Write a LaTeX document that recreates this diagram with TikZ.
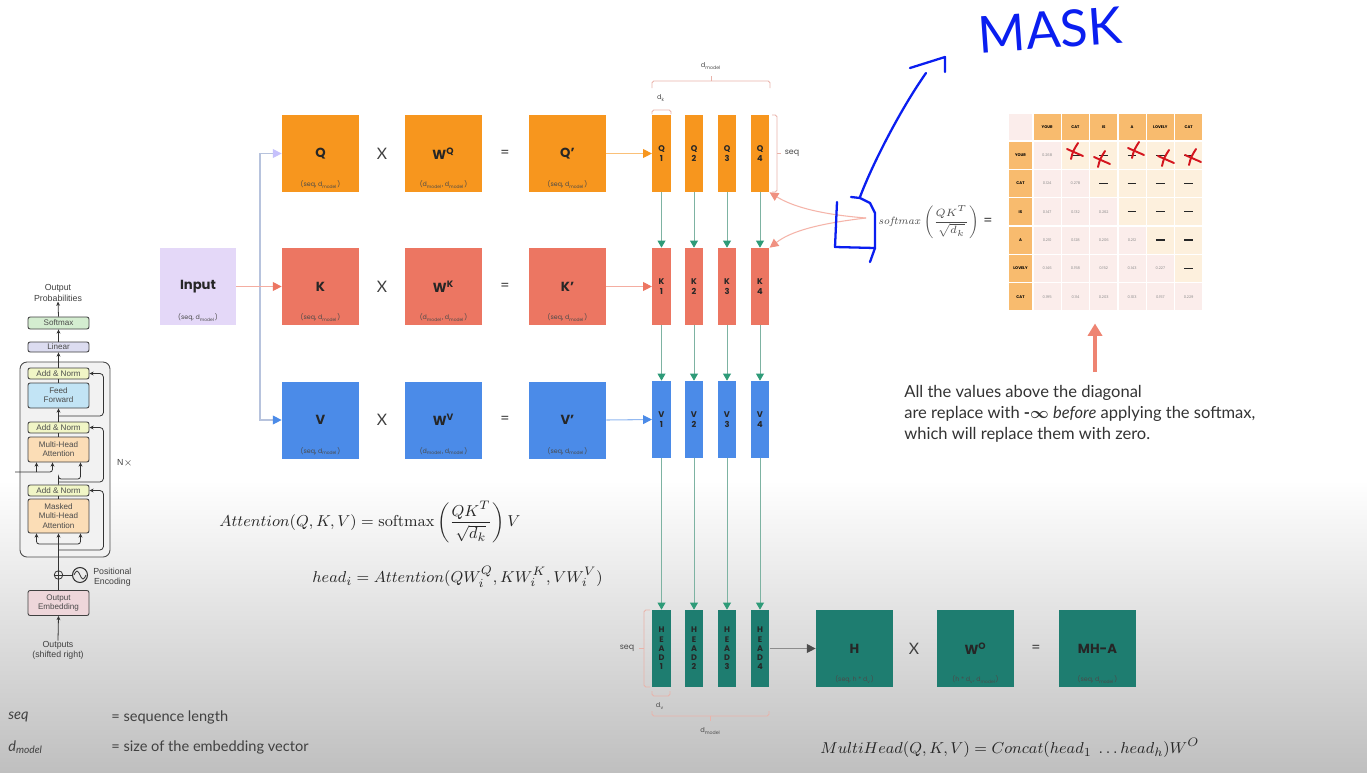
\documentclass[tikz,border=0pt]{standalone}
\usepackage{amsmath,amssymb}
\usepackage[no-math]{fontspec}
\setmainfont{Lato}
\newfontfamily\boxfont{Poppins}
\newfontfamily\decfont{Liberation Sans}
\usepackage{xcolor}
\usetikzlibrary{arrows.meta, positioning, calc}

\definecolor{qorange}{HTML}{F7961E}
\definecolor{ksalmon}{HTML}{EC7662}
\definecolor{vblue}{HTML}{4B8BE8}
\definecolor{hteal}{HTML}{1E7D70}
\definecolor{inlav}{HTML}{E4D8F8}
\definecolor{linkgreen}{HTML}{7DB3A2}
\definecolor{tipgreen}{HTML}{2E9B78}
\definecolor{bracepink}{HTML}{E9B3AA}
\definecolor{splitgrey}{HTML}{B7C3DD}
\definecolor{hdrorange}{HTML}{F8BB6E}
\definecolor{lowpink}{HTML}{FBEDEB}
\definecolor{uppeach}{HTML}{FDF0DD}
\definecolor{penblue}{HTML}{0A1EF0}
\definecolor{penred}{HTML}{D4141E}
\definecolor{dimtext}{HTML}{4A4A4A}
% decoder colours
\definecolor{decgreen}{HTML}{D4EDD0}
\definecolor{declav}{HTML}{DCDCF0}
\definecolor{decyellow}{HTML}{F1F6C6}
\definecolor{decblue}{HTML}{C2E4F5}
\definecolor{decpeach}{HTML}{FBDDB6}
\definecolor{decpink}{HTML}{EED6DA}

\begin{document}
\begin{tikzpicture}[
    x=0.02cm, y=-0.02cm,
    mat/.style={minimum width=1.54cm, minimum height=1.54cm, inner sep=0pt, font=\boxfont\fontsize{7.5}{8}\selectfont\bfseries, text=black!85},
    dims/.style={anchor=south, yshift=2pt, inner sep=0pt, font=\boxfont\fontsize{3.6}{4}\selectfont, text=dimtext},
    op/.style={font=\fontsize{9}{10}\selectfont, text=black!75},
    strip/.style={minimum width=0.37cm, minimum height=1.54cm, inner sep=0pt, align=center, font=\boxfont\fontsize{4.7}{5.7}\selectfont\bfseries, text=black!85},
    headstrip/.style={strip, fill=hteal, font=\boxfont\fontsize{4.6}{5.3}\selectfont\bfseries},
    link/.style={linkgreen, line width=0.5pt, -{Triangle[length=4pt, width=4.5pt, color=tipgreen]}},
    brace/.style={bracepink, line width=0.5pt, rounded corners=1pt},
    tinylbl/.style={font=\boxfont\fontsize{3.8}{4}\selectfont, text=dimtext, inner sep=0pt},
    seqlbl/.style={font=\boxfont\fontsize{4.5}{5}\selectfont, text=dimtext, inner sep=0pt},
    dblk/.style={draw=black!75, line width=0.5pt, rounded corners=1.2pt, minimum width=1.22cm, inner sep=0pt, align=center, font=\decfont\fontsize{4.6}{5.2}\selectfont, text=black!70},
    dectxt/.style={align=center, inner sep=0pt, font=\decfont\fontsize{5}{5.8}\selectfont, text=black!75},
    darr/.style={black!80, line width=0.45pt, -{Stealth[length=2.4pt, width=2.2pt]}},
    dline/.style={black!80, line width=0.45pt},
    hdr/.style={fill=hdrorange, draw=white, line width=0.8pt, minimum width=0.566cm, minimum height=0.566cm, inner sep=0pt, font=\boxfont\fontsize{2.2}{2.5}\selectfont\bfseries},
    cell/.style={draw=white, line width=0.8pt, minimum width=0.566cm, minimum height=0.566cm, inner sep=0pt, font=\boxfont\fontsize{2.1}{2.5}\selectfont, text=black!45},
    pen/.style={penblue, line width=1.3pt, line cap=round, line join=round},
    redpen/.style={penred, line width=1.1pt, line cap=round},
    formula/.style={anchor=west, inner sep=0pt, font=\fontsize{9.5}{12}\selectfont, text=black!85}
]
% background
\fill[white] (0,0) rectangle (1367,480);
\shade[top color=white, bottom color=black!25] (0,480) rectangle (1367,772);
\useasboundingbox (0,0) rectangle (1367,772);

% ---------------- decoder stack
\draw[rounded corners=4pt, draw=black!70, fill=black!5, line width=0.5pt] (20,362) rectangle (110,557);
\node[dectxt] (outprob) at (58,293) {Output\\Probabilities};
\node[dblk, fill=decgreen, minimum height=0.24cm] (dsoft) at (58.5,323) {Softmax};
\node[dblk, fill=declav, minimum height=0.2cm] (dlin) at (58.5,347) {Linear};
\node[dblk, fill=decyellow, minimum height=0.22cm] (an1) at (58.5,373.5) {Add \& Norm};
\node[dblk, fill=decblue, minimum height=0.5cm] (ff) at (58.5,395.5) {Feed\\Forward};
\node[dblk, fill=decyellow, minimum height=0.22cm] (an2) at (58.5,427.5) {Add \& Norm};
\node[dblk, fill=decpeach, minimum height=0.5cm] (mha) at (58.5,449.5) {Multi-Head\\Attention};
\node[dblk, fill=decyellow, minimum height=0.22cm] (an3) at (58.5,490.5) {Add \& Norm};
\node[dblk, fill=decpeach, minimum height=0.68cm] (mmha) at (58.5,516) {Masked\\Multi-Head\\Attention};
\node[dectxt] (nx) at (125,463) {N$\times$};
\node[draw=black!80, circle, minimum size=0.17cm, inner sep=0pt, line width=0.45pt] (plus) at (58.5,575) {};
\node[draw=black!80, circle, minimum size=0.3cm, inner sep=0pt, line width=0.6pt] (sine) at (80,575) {};
\node[dectxt, anchor=west] (posenc) at (93,577) {Positional\\Encoding};
\node[dblk, fill=decpink, minimum height=0.5cm] (emb) at (58.5,603) {Output\\Embedding};
\node[dectxt] (outs) at (58,650) {Outputs\\(shifted right)};
\draw[dline] (plus.west) -- (plus.east) (plus.north) -- (plus.south);
\draw[dline] ($(sine.center)+(-6,0)$) sin ($(sine.center)+(-3,-4)$) cos (sine.center) sin ($(sine.center)+(3,4)$) cos ($(sine.center)+(6,0)$);
\draw[dline] (plus.east) -- (sine.west);
\draw[darr] (outs.north) -- (emb.south);
\draw[dline] (emb.north) -- (plus.south);
\draw[darr] (plus.north) -- (mmha.south);
\coordinate (fk1) at (58.5,544);
\draw[darr, rounded corners=1.5pt] (fk1) -| ($(mmha.south)+(-22,0)$);
\draw[darr, rounded corners=1.5pt] (fk1) -| ($(mmha.south)+(22,0)$);
\coordinate (res1) at (58.5,550);
\draw[darr, rounded corners=2pt] (res1) -| ($(an3.east)+(14,0)$) -- (an3.east);
\draw[dline] (mmha.north) -- (an3.south);
\coordinate (fk2) at (58.5,479);
\draw[darr, rounded corners=1.5pt] (an3.north) |- (fk2) -| ($(mha.south)+(22,0)$);
\coordinate (encin) at (15,472);
\draw[darr, rounded corners=1.5pt] (encin) -| ($(mha.south)+(-6,0)$);
\draw[darr] ($(mha.south)+(-22,10)$) -- ($(mha.south)+(-22,0)$);
\coordinate (res2) at (58.5,482);
\draw[darr, rounded corners=2pt] (res2) -| ($(an2.east)+(14,0)$) -- (an2.east);
\draw[dline] (mha.north) -- (an2.south);
\draw[darr] (an2.north) -- (ff.south);
\coordinate (res3) at (58.5,416);
\draw[darr, rounded corners=2pt] (res3) -| ($(an1.east)+(14,0)$) -- (an1.east);
\draw[dline] (ff.north) -- (an1.south);
\draw[darr] (an1.north) -- (dlin.south);
\draw[darr] (dlin.north) -- (dsoft.south);
\draw[darr] (dsoft.north) -- (outprob.south);

% ---------------- projection rows
\node[mat, fill=inlav, minimum width=1.52cm, label={[dims]south:(seq, d\textsubscript{model})}] (input) at (198,286.5) {Input};

\node[mat, fill=qorange, label={[dims]south:(seq, d\textsubscript{model})}] (q) at (320.5,153.5) {Q};
\node[op] (xq) at (382,153.5) {X};
\node[mat, fill=qorange, label={[dims]south:(d\textsubscript{model}, d\textsubscript{model})}] (wq) at (443.5,153.5) {W\textsuperscript{Q}};
\node[op] (eq) at (505,153.5) {=};
\node[mat, fill=qorange, label={[dims]south:(seq, d\textsubscript{model})}] (qp) at (567.5,153.5) {Q’};

\node[mat, fill=ksalmon, label={[dims]south:(seq, d\textsubscript{model})}] (k) at (320.5,286.5) {K};
\node[op] (xk) at (382,286.5) {X};
\node[mat, fill=ksalmon, label={[dims]south:(d\textsubscript{model}, d\textsubscript{model})}] (wk) at (443.5,286.5) {W\textsuperscript{K}};
\node[op] (ek) at (505,286.5) {=};
\node[mat, fill=ksalmon, label={[dims]south:(seq, d\textsubscript{model})}] (kp) at (567.5,286.5) {K’};

\node[mat, fill=vblue, label={[dims]south:(seq, d\textsubscript{model})}] (v) at (320.5,420) {V};
\node[op] (xv) at (382,420) {X};
\node[mat, fill=vblue, label={[dims]south:(d\textsubscript{model}, d\textsubscript{model})}] (wv) at (443.5,420) {W\textsuperscript{V}};
\node[op] (ev) at (505,420) {=};
\node[mat, fill=vblue, label={[dims]south:(seq, d\textsubscript{model})}] (vp) at (567.5,420) {V’};

\coordinate (split) at (260,286.5);
\draw[splitgrey, line width=0.6pt, -{Triangle[length=5pt, width=5pt, color=inlav!70!blue!60]}] (split) |- (q.west);
\draw[splitgrey, line width=0.6pt, -{Triangle[length=5pt, width=5pt, color=vblue]}] (split) |- (v.west);
\draw[ksalmon!60, line width=0.6pt, -{Triangle[length=5pt, width=5pt, color=ksalmon]}] (input.east) -- (k.west);

% ---------------- split heads
\foreach \i/\x in {1/661.5,2/694,3/727,4/760}{
  \node[strip, fill=qorange] (q\i) at (\x,153.5) {Q\\\i};
  \node[strip, fill=ksalmon] (k\i) at (\x,286.5) {K\\\i};
  \node[strip, fill=vblue] (v\i) at (\x,419.5) {V\\\i};
  \node[headstrip] (h\i) at (\x,648.5) {H\\E\\A\\D\\\i};
}
\foreach \i in {1,...,4}{
  \draw[link] (q\i.south) -- (k\i.north);
  \draw[link] (k\i.south) -- (v\i.north);
  \draw[link] (v\i.south) -- (h\i.north);
}
\draw[qorange!60, line width=0.6pt, -{Triangle[length=5pt, width=5pt, color=qorange]}] (qp.east) -- (q1.west);
\draw[ksalmon!60, line width=0.6pt, -{Triangle[length=5pt, width=5pt, color=ksalmon]}] (kp.east) -- (k1.west);
\draw[vblue!60, line width=0.6pt, -{Triangle[length=5pt, width=5pt, color=vblue]}] (vp.east) -- (v1.west);

% brackets around the Q heads
\draw[brace] (652,88) -- (652,81) -- (770,81) -- (770,88);
\draw[brace] (711,81) -- (711,76);
\node[tinylbl] (dmtop) at (711,66) {d\textsubscript{model}};
\draw[brace] (652,114) -- (652,110) -- (671,110) -- (671,114);
\node[tinylbl] (dk) at (661,98) {d\textsubscript{k}};
\draw[brace] (772,115) -- (777,115) -- (777,192) -- (772,192);
\draw[brace] (777,153.5) -- (781,153.5);
\node[seqlbl] (seqq) at (792,153.5) {seq};

% brackets around the heads
\draw[brace] (650,610) -- (644,610) -- (644,687) -- (650,687);
\draw[brace] (644,648.5) -- (639,648.5);
\node[seqlbl] (seqh) at (627,648.5) {seq};
\draw[brace] (652,691) -- (652,696) -- (670,696) -- (670,691);
\node[tinylbl] (dv) at (660,706) {d\textsubscript{v}};
\draw[brace] (652,711) -- (652,716) -- (769,716) -- (769,711);
\draw[brace] (710.5,716) -- (710.5,721);
\node[tinylbl] (dmbot) at (710.5,731) {d\textsubscript{model}};

% ---------------- output projection
\node[mat, fill=hteal, label={[dims]south:(seq, h * d\textsubscript{v})}] (hcat) at (854.5,648.5) {H};
\node[op] (xo) at (914,648.5) {X};
\node[mat, fill=hteal, label={[dims]south:(h * d\textsubscript{v}, d\textsubscript{model})}] (wo) at (975.5,648.5) {W\textsuperscript{O}};
\node[op] (eo) at (1036,648.5) {=};
\node[mat, fill=hteal, label={[dims]south:(seq, d\textsubscript{model})}] (mha2) at (1097.5,648.5) {MH-A};
\draw[black!45, line width=0.6pt, -{Triangle[length=5pt, width=5pt, color=black!70]}] (h4.east) -- (hcat.west);

% ---------------- softmax and mask matrix
\node[font=\fontsize{6.2}{8}\selectfont, text=black!70, inner sep=0pt, anchor=west] (smx) at (878,222) {$\mathit{softmax}\left(\dfrac{QK^T}{\sqrt{d_k}}\right)$};
\node[op] (esm) at (988,222) {=};
\coordinate (smin) at (866,218);
\draw[ksalmon!55, line width=0.6pt, -{Triangle[length=5pt, width=5pt, color=ksalmon!80]}] (smin) .. controls (815,214) and (790,205) .. (q4.south east);
\draw[ksalmon!55, line width=0.6pt, -{Triangle[length=5pt, width=5pt, color=ksalmon!80]}] (smin) .. controls (815,224) and (790,232) .. (k4.north east);

\node[cell, fill=lowpink, minimum width=0.5cm] (corner) at (1020.5,127) {};
\foreach \w [count=\i] in {YOUR,CAT,IS,A,LOVELY,CAT}{
  \node[hdr] (col\i) at ({1033+28.3*(\i-0.5)},127) {\w};
  \node[hdr, minimum width=0.5cm] (row\i) at (1020.5,{141+28.3*(\i-0.5)}) {\w};
}
\foreach \vals [count=\r] in {{0.268,0.119,0.134,0.148,0.179,0.152},{0.124,0.278,0.201,0.128,0.154,0.115},{0.147,0.132,0.262,0.097,0.218,0.145},{0.210,0.128,0.206,0.212,0.119,0.125},{0.146,0.158,0.152,0.143,0.227,0.174},{0.195,0.114,0.203,0.103,0.157,0.229}}{
  \foreach \val [count=\c] in \vals {
    \ifnum\c>\r
      \node[cell, fill=uppeach, text=black!85] (m-\r-\c) at ({1033+28.3*(\c-0.5)},{141+28.3*(\r-0.5)}) {\rule{5pt}{0.7pt}};
    \else
      \node[cell, fill=lowpink] (m-\r-\c) at ({1033+28.3*(\c-0.5)},{141+28.3*(\r-0.5)}) {\val};
    \fi
  }
}
% red crosses over the masked cells
\foreach \cx/\cy in {1075/151, 1102/159, 1136/150, 1166/158, 1193/157}{
  \draw[redpen] ({\cx-4},{\cy+8}) .. controls ({\cx-2},{\cy}) .. ({\cx+3},{\cy-8});
  \draw[redpen] ({\cx-8},{\cy-2}) -- ({\cx+8},{\cy+5});
}

\coordinate (uparr) at (1095,372);
\draw[ksalmon!90, line width=2pt, -{Triangle[length=7pt, width=8pt]}] (uparr) -- ($(uparr |- m-6-3.south)+(0,12)$);
\node[anchor=north west, align=left, inner sep=0pt, font=\fontsize{9.4}{11.9}\selectfont, text=black!80] (note) at (904,385)
  {All the values above the diagonal\\
   are replace with \textbf{-}{\boldmath$\infty$} \textit{before} applying the softmax,\\
   which will replace them with zero.};

% ---------------- blue pen notes
\draw[pen] (851,197) -- (860,198) -- (870,203) -- (875,213) -- (875,248) -- (835,247) -- (837,202);
\draw[pen] (875,248) -- (870,262);
\draw[pen] (860,197) .. controls (872,165) and (900,110) .. (926,73);
\draw[pen] (910,68) -- (945,57) -- (945,72);
\node[font=\fontsize{29}{32}\selectfont, text=penblue, inner sep=0pt, rotate=4] (mask) at (1050,30) {MASK};

% ---------------- formulas
\node[formula] (attn) at (219,522)
  {$Attention(Q,K,V) = \mathrm{softmax}\left(\dfrac{QK^T}{\sqrt{d_k}}\right)V$};
\node[formula] (headi) at (312,577)
  {$head_i = Attention(QW_i^Q, KW_i^K, VW_i^V)$};
\node[formula] (mhead) at (820,748)
  {$MultiHead(Q,K,V) = Concat(head_1\ \ldots head_h)W^O$};

% ---------------- legend
\node[anchor=west, inner sep=0pt, font=\fontsize{8.3}{10}\selectfont\itshape, text=black!75] (lseq) at (8,717) {seq};
\node[anchor=west, inner sep=0pt, font=\fontsize{8.3}{10}\selectfont, text=black!75] (lseqd) at (111,717) {= sequence length};
\node[anchor=west, inner sep=0pt, font=\fontsize{8.3}{10}\selectfont\itshape, text=black!75] (ldm) at (8,747) {d\textsubscript{model}};
\node[anchor=west, inner sep=0pt, font=\fontsize{8.3}{10}\selectfont, text=black!75] (ldmd) at (111,747) {= size of the embedding vector};
\end{tikzpicture}
\end{document}
